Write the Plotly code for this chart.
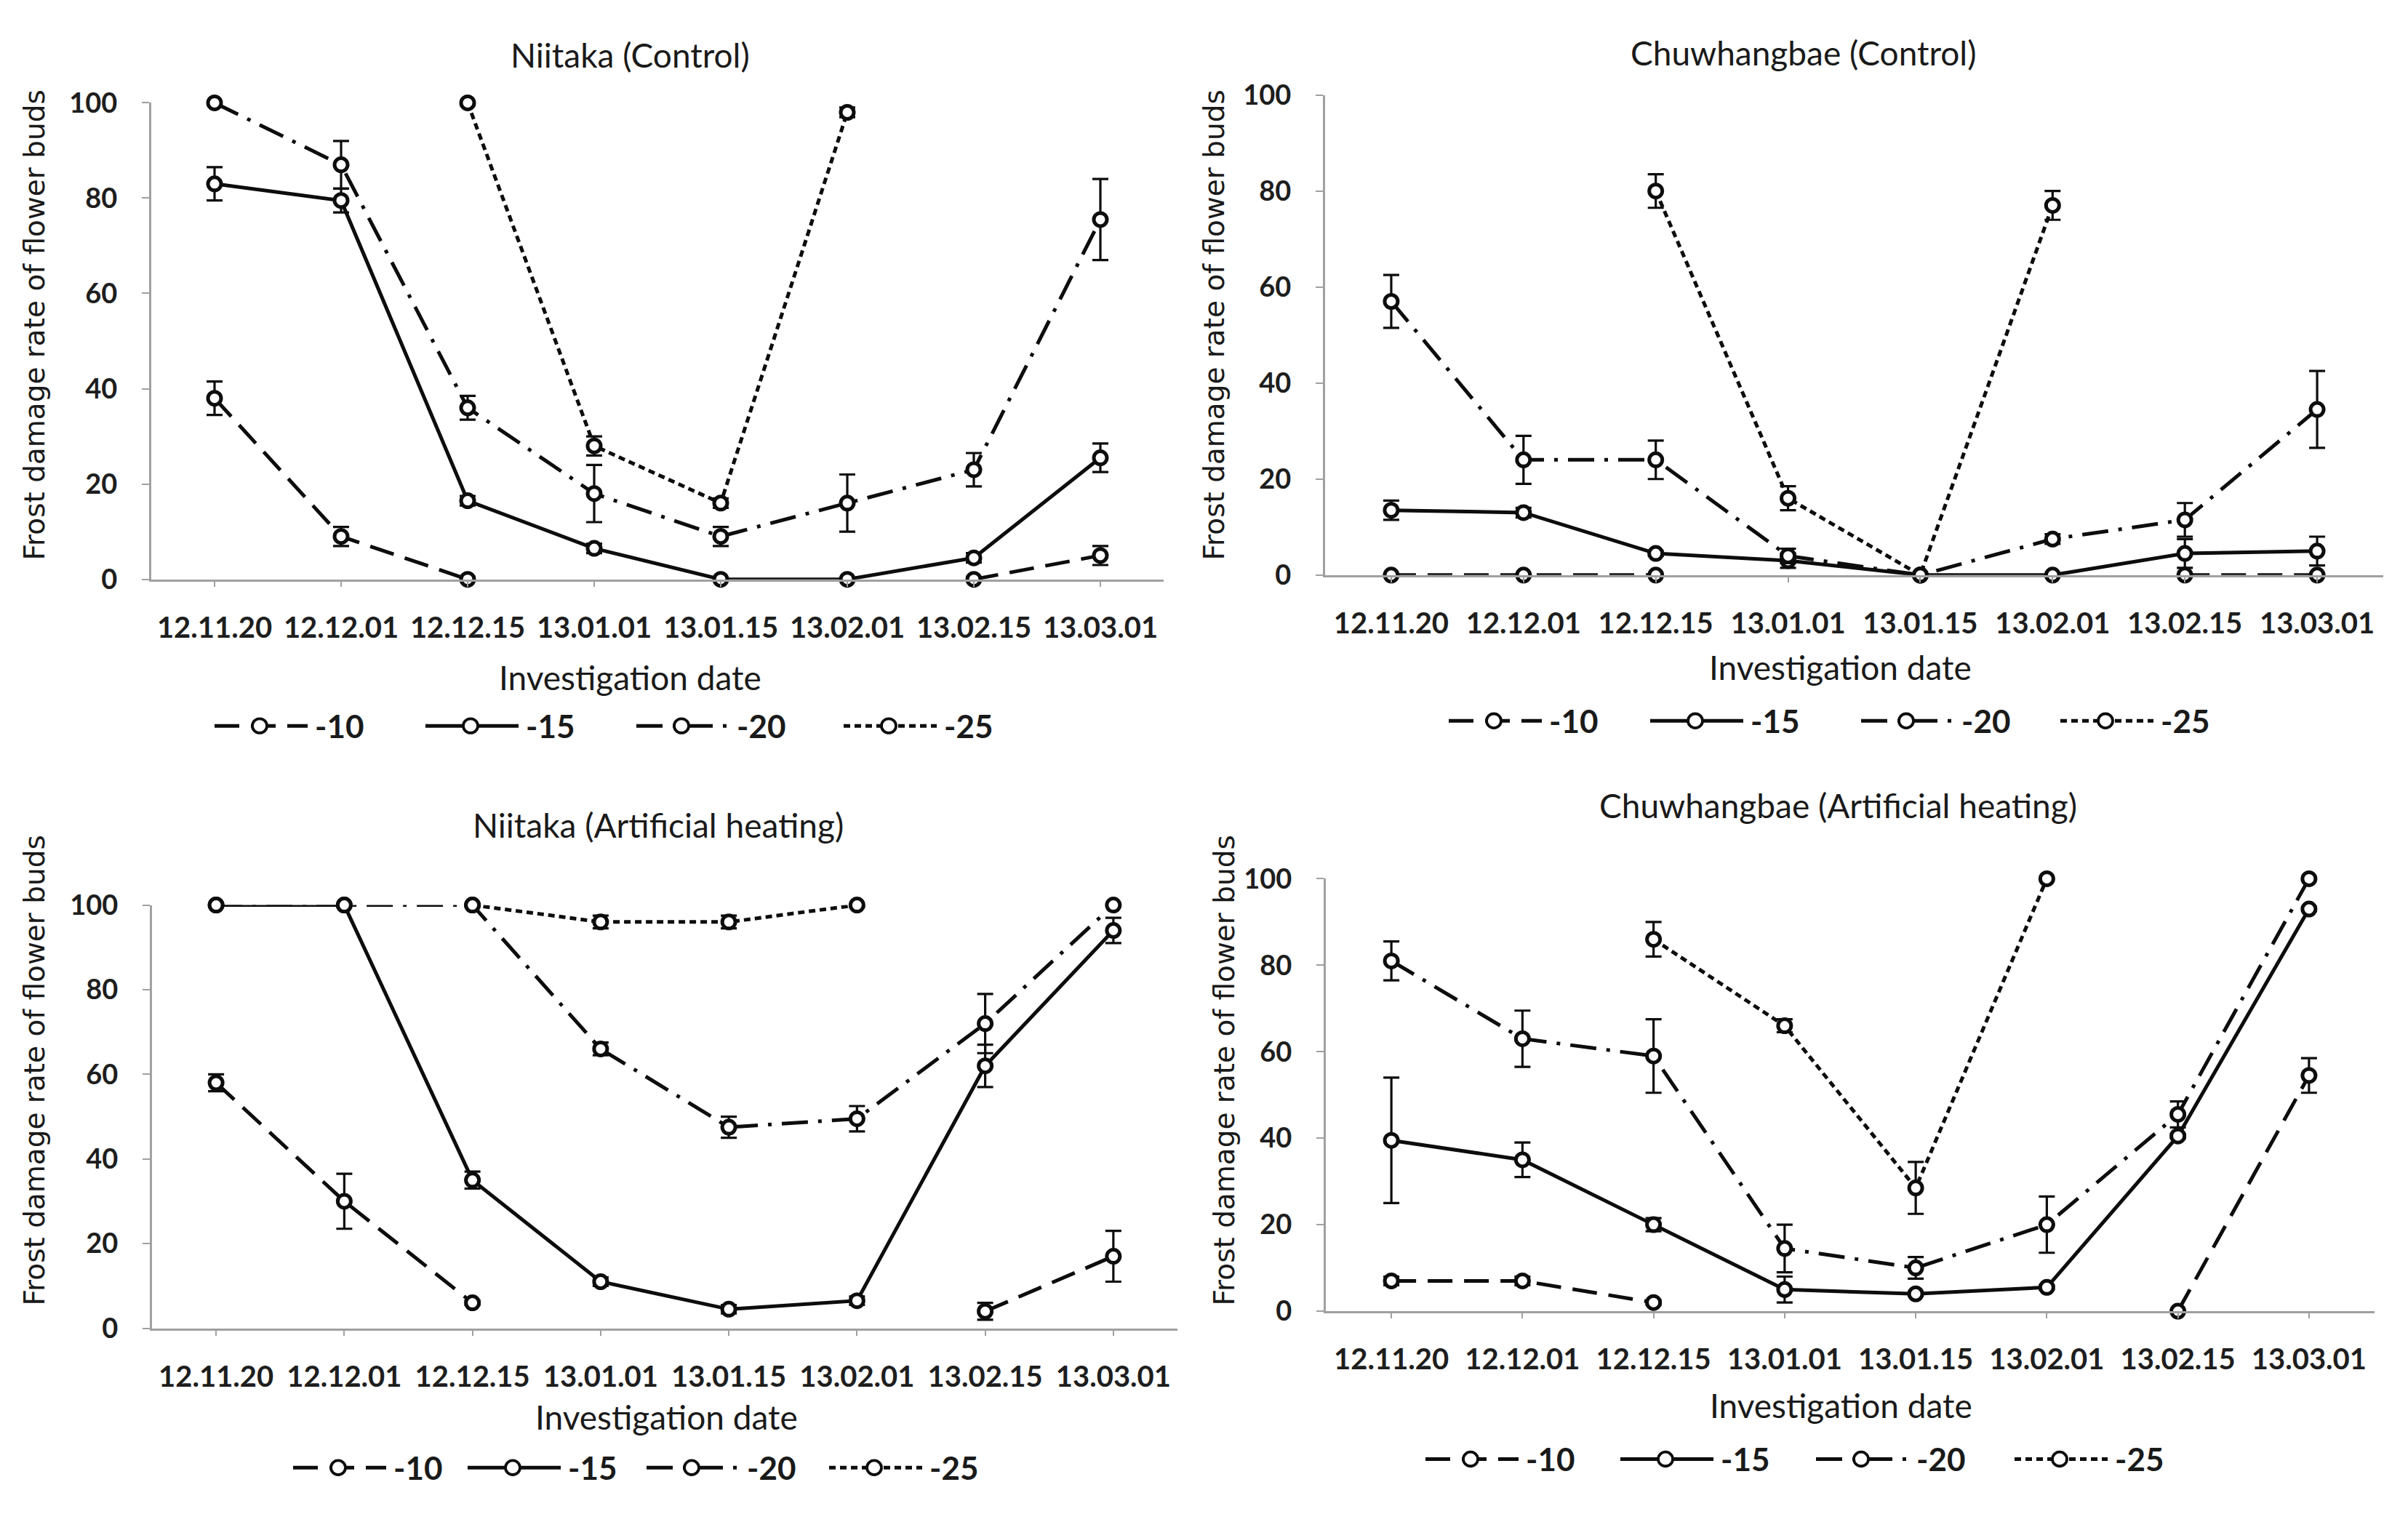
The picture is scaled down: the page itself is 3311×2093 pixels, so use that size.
import plotly.graph_objects as go

# ---------------- data ----------------
dates = ["12.11.20", "12.12.01", "12.12.15", "13.01.01", "13.01.15", "13.02.01", "13.02.15", "13.03.01"]
temps = ["-10", "-15", "-20", "-25"]
y_ticks = [0, 20, 40, 60, 80, 100]

# Niitaka (Control)
nc_m10 = [38, 9, 0, None, None, None, 0, 5]
nc_m10_err = [3.5, 2, 0.5, 0, 0, 0, 0.5, 2]
nc_m15 = [83, 79.5, 16.5, 6.5, 0, 0, 4.5, 25.5]
nc_m15_err = [3.5, 2.5, 1, 1, 0, 0, 1, 3]
nc_m20 = [100, 87, 36, 18, 9, 16, 23, 75.5]
nc_m20_err = [0, 5, 2.5, 6, 2, 6, 3.5, 8.5]
nc_m25 = [None, None, 100, 28, 16, 98, None, None]
nc_m25_err = [0, 0, 0.5, 2, 1, 1, 0, 0]

# Chuwhangbae (Control)
cc_m10 = [0, 0, 0, None, None, None, 0, 0]
cc_m10_err = [0, 0, 0, 0, 0, 0, 0, 0]
cc_m15 = [13.5, 13, 4.5, 3, 0, 0, 4.5, 5]
cc_m15_err = [2, 1, 0.5, 1.5, 0, 0, 3, 3]
cc_m20 = [57, 24, 24, 4, 0, 7.5, 11.5, 34.5]
cc_m20_err = [5.5, 5, 4, 1.5, 0, 1, 3.5, 8]
cc_m25 = [None, None, 80, 16, 0, 77, None, None]
cc_m25_err = [0, 0, 3.5, 2.5, 0, 3, 0, 0]

# Niitaka (Artificial heating)
nh_m10 = [58, 30, 6, None, None, None, 4, 17]
nh_m10_err = [2, 6.5, 0.5, 0, 0, 0, 2, 6]
nh_m15 = [100, 100, 35, 11, 4.5, 6.5, 62, 94]
nh_m15_err = [0, 0, 2, 1, 1, 1, 5, 3]
nh_m20 = [100, 100, 100, 66, 47.5, 49.5, 72, 100]
nh_m20_err = [0, 0, 0, 1.5, 2.5, 3, 7, 0]
nh_m25 = [None, None, 100, 96, 96, 100, None, None]
nh_m25_err = [0, 0, 0, 1.5, 1.5, 0.5, 0, 0]

# Chuwhangbae (Artificial heating)
ch_m10 = [7, 7, 2, None, None, None, 0, 54.5]
ch_m10_err = [1, 1, 0.5, 0, 0, 0, 0, 4]
ch_m15 = [39.5, 35, 20, 5, 4, 5.5, 40.5, 93]
ch_m15_err = [14.5, 4, 1.5, 3, 0.5, 0.5, 0.5, 0.5]
ch_m20 = [81, 63, 59, 14.5, 10, 20, 45.5, 100]
ch_m20_err = [4.5, 6.5, 8.5, 5.5, 2.5, 6.5, 3, 0]
ch_m25 = [None, None, 86, 66, 28.5, 100, None, None]
ch_m25_err = [0, 0, 4, 1.5, 6, 0, 0, 0]

titles = ["Niitaka (Control)", "Chuwhangbae (Control)",
          "Niitaka (Artificial heating)", "Chuwhangbae (Artificial heating)"]
x_title = "Investigation date"
y_title = "Frost damage rate of flower buds"

panel_series = [
    [(nc_m10, nc_m10_err), (nc_m15, nc_m15_err), (nc_m20, nc_m20_err), (nc_m25, nc_m25_err)],
    [(cc_m10, cc_m10_err), (cc_m15, cc_m15_err), (cc_m20, cc_m20_err), (cc_m25, cc_m25_err)],
    [(nh_m10, nh_m10_err), (nh_m15, nh_m15_err), (nh_m20, nh_m20_err), (nh_m25, nh_m25_err)],
    [(ch_m10, ch_m10_err), (ch_m15, ch_m15_err), (ch_m20, ch_m20_err), (ch_m25, ch_m25_err)],
]

# ---------------- layout geometry (pixels) ----------------
W, H = 3311, 2093
def fx(p):
    return p / W
def fy(p):
    return 1 - p / H

# x0, x1, y_at_100, y_at_0
plot_boxes = [
    (208, 1600, 119, 789),
    (1822, 3277, 108, 783),
    (209, 1619, 1247, 1842),
    (1823, 3265, 1210, 1818),
]
title_pos = [(866, 52), (2480, 49), (905, 1134), (2527, 1107)]
xtitle_pos = [(866, 927), (2530, 913), (916, 1967), (2531, 1950)]
ytitle_pos = [(48, 432), (1670, 432), (47, 1480), (1683, 1480)]
legend_y = [995, 988, 2038, 2026]
legend_starts = [
    (295, 585, 875, 1160),
    (1992, 2269, 2559, 2833),
    (403, 643, 889, 1140),
    (1960, 2228, 2497, 2770),
]

dash_styles = ["34px,16px", "solid", "36px,14px,5px,14px", "9px,6px"]
INK = "#0d0d0d"
AXIS_GRAY = "#a0a0a0"
TXT_FONT = "Lato, 'Open Sans', sans-serif"

fig = go.Figure()

for p in range(4):
    xa = "x" if p == 0 else f"x{p+1}"
    ya = "y" if p == 0 else f"y{p+1}"
    for s, (vals, errs) in enumerate(panel_series[p]):
        fig.add_trace(go.Scatter(
            x=dates, y=vals, xaxis=xa, yaxis=ya,
            mode="lines+markers", name=temps[s], showlegend=False,
            connectgaps=False, cliponaxis=False,
            line=dict(color=INK, width=5, dash=dash_styles[s]),
            marker=dict(symbol="circle", size=18, color="white",
                        line=dict(color=INK, width=5)),
            error_y=dict(type="data", array=errs, symmetric=True,
                         color=INK, thickness=3.2, width=11),
        ))

layout = dict(
    width=W, height=H,
    margin=dict(l=0, r=0, t=0, b=0),
    paper_bgcolor="white", plot_bgcolor="white",
    font=dict(family=TXT_FONT, color="#1a1a1a"),
    showlegend=False,
)

for p, (x0, x1, y100, y0) in enumerate(plot_boxes):
    xk = "xaxis" if p == 0 else f"xaxis{p+1}"
    yk = "yaxis" if p == 0 else f"yaxis{p+1}"
    xa = "x" if p == 0 else f"x{p+1}"
    ya = "y" if p == 0 else f"y{p+1}"
    layout[xk] = dict(
        domain=[fx(x0), fx(x1)], anchor=ya,
        type="category", categoryorder="array", categoryarray=dates,
        range=[-0.5, 7.5], showgrid=False, zeroline=False,
        showline=True, linecolor=AXIS_GRAY, linewidth=3,
        ticks="outside", ticklen=7, tickwidth=2, tickcolor=AXIS_GRAY,
        tickfont=dict(family=TXT_FONT, size=40, color="#1e1e1e", weight="bold"),
        ticklabelstandoff=22,
    )
    layout[yk] = dict(
        domain=[fy(y0), fy(y100)], anchor=xa,
        range=[0, 100], tickvals=y_ticks, showgrid=False, zeroline=False,
        showline=True, linecolor=AXIS_GRAY, linewidth=3,
        ticks="outside", ticklen=10, tickwidth=2, tickcolor=AXIS_GRAY,
        tickfont=dict(family=TXT_FONT, size=38, color="#1e1e1e", weight="bold"),
        ticklabelstandoff=26,
    )

annotations = []
shapes = []
for p in range(4):
    tx, ty = title_pos[p]
    annotations.append(dict(x=fx(tx), y=fy(ty), xref="paper", yref="paper",
                            text=titles[p], showarrow=False, xanchor="center", yanchor="middle",
                            font=dict(family=TXT_FONT, size=46, color="#1a1a1a")))
    tx, ty = xtitle_pos[p]
    annotations.append(dict(x=fx(tx), y=fy(ty), xref="paper", yref="paper",
                            text=x_title, showarrow=False, xanchor="center", yanchor="middle",
                            font=dict(family=TXT_FONT, size=46, color="#1a1a1a")))
    tx, ty = ytitle_pos[p]
    annotations.append(dict(x=fx(tx), y=fy(ty), xref="paper", yref="paper",
                            text=y_title, showarrow=False, textangle=-90,
                            xanchor="center", yanchor="middle",
                            font=dict(family="DejaVu Sans", size=39, color="#1a1a1a")))
    ly = legend_y[p]
    for s in range(4):
        st = legend_starts[p][s]
        shapes.append(dict(type="line", xref="paper", yref="paper",
                           x0=fx(st), x1=fx(st + 128), y0=fy(ly), y1=fy(ly),
                           line=dict(color=INK, width=5, dash=dash_styles[s])))
        cx, r = st + 62, 10
        shapes.append(dict(type="circle", xref="paper", yref="paper",
                           x0=fx(cx - r), x1=fx(cx + r), y0=fy(ly + r), y1=fy(ly - r),
                           fillcolor="white", line=dict(color=INK, width=3.8)))
        annotations.append(dict(x=fx(st + 136), y=fy(ly), xref="paper", yref="paper",
                                text=temps[s], showarrow=False, xanchor="left", yanchor="middle",
                                font=dict(family=TXT_FONT, size=44, color="#1a1a1a", weight="bold")))

layout["annotations"] = annotations
layout["shapes"] = shapes
fig.update_layout(**layout)

fig.write_html("out.html")
